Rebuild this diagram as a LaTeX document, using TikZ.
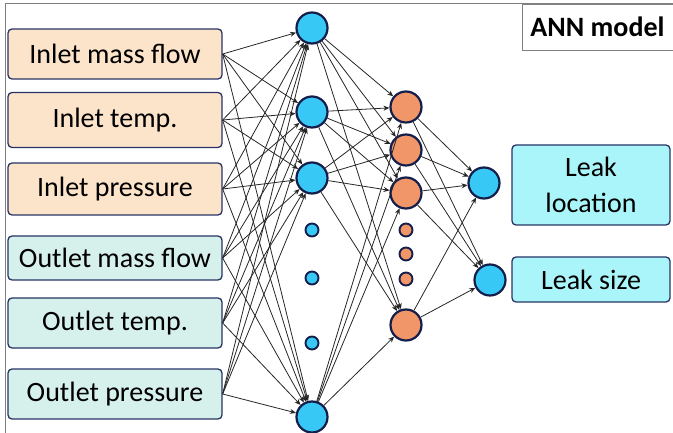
\documentclass[tikz,border=0pt]{standalone}
\usepackage{fontspec}
\setmainfont{Carlito}
\usepackage{tikz}
\usetikzlibrary{arrows.meta, positioning}
\usepackage{xcolor}
\definecolor{NodeBlue}{RGB}{56,200,245}
\definecolor{NodeOrange}{RGB}{240,150,105}
\definecolor{EdgeNavy}{RGB}{20,30,75}
\definecolor{InletFill}{RGB}{252,228,202}
\definecolor{OutletFill}{RGB}{214,240,236}
\definecolor{LeakFill}{RGB}{170,245,250}
\definecolor{BoxLine}{RGB}{40,52,100}

\tikzset{
  varbox/.style={draw=BoxLine, line width=1.3pt, rounded corners=4pt,
        minimum width=214pt, minimum height=50pt, font=\fontsize{28}{32}\selectfont},
  neuron/.style={circle, draw=EdgeNavy, line width=2.2pt, inner sep=0pt, minimum size=31pt},
  dotneuron/.style={circle, draw=EdgeNavy, line width=1.9pt, inner sep=0pt, minimum size=13pt},
  link/.style={-{Stealth[length=6pt,width=5pt]}, line width=0.8pt, black!85}
}

\begin{document}
\begin{tikzpicture}[x=1pt, y=-1pt]
      \useasboundingbox (0,0) rectangle (673,433);
      \draw[gray, line width=1pt] (5,433) -- (5,4) -- (673,4);

      \node[draw=gray, line width=0.8pt, minimum width=151pt, minimum height=46pt,
            font=\fontsize{28}{32}\selectfont\bfseries] (title) at (597.5,27) {ANN model};

      % inputs
      \node[varbox, fill=InletFill]  (in1) at (115,54)  {Inlet mass flow};
      \node[varbox, fill=InletFill, minimum height=55pt]  (in2) at (115,120) {Inlet temp.};
      \node[varbox, fill=InletFill, minimum height=52pt]  (in3) at (115,189) {Inlet pressure};
      \node[varbox, fill=OutletFill, minimum height=44pt] (in4) at (115,258) {Outlet mass flow};
      \node[varbox, fill=OutletFill] (in5) at (115,323) {Outlet temp.};
      \node[varbox, fill=OutletFill] (in6) at (115,394) {Outlet pressure};

      % first hidden layer
      \foreach \n/\y in {1/28, 2/112, 3/178, 4/417}
        \node[neuron, fill=NodeBlue] (a\n) at (312,\y) {};
      \foreach \n/\y in {1/230, 2/278, 3/343}
        \node[dotneuron, fill=NodeBlue] (ad\n) at (312,\y) {};

      % second hidden layer
      \foreach \n/\y in {1/107, 2/150, 3/193, 4/325}
        \node[neuron, fill=NodeOrange] (b\n) at (406,\y) {};
      \foreach \n/\y in {1/230, 2/254, 3/279}
        \node[dotneuron, fill=NodeOrange] (bd\n) at (406,\y) {};

      % outputs
      \node[neuron, fill=NodeBlue] (c1) at (484,183) {};
      \node[neuron, fill=NodeBlue] (c2) at (490,280) {};

      \node[varbox, fill=LeakFill, minimum width=158pt, minimum height=80pt,
            align=center, font=\fontsize{28}{36}\selectfont] (leakloc) at (591,185) {Leak\\location};
      \node[varbox, fill=LeakFill, minimum width=158pt, minimum height=45pt]
            (leaksize) at (591,279.5) {Leak size};

      % connections
      \foreach \i in {1,...,6}
        \foreach \j in {1,...,4}
          \draw[link] (in\i.east) -- (a\j);
      \foreach \i in {1,...,4}
        \foreach \j in {1,...,4}
          \draw[link] (a\i) -- (b\j);
      \foreach \i in {1,...,4}
        \foreach \j in {1,2}
          \draw[link] (b\i) -- (c\j);
    \end{tikzpicture}
\end{document}
